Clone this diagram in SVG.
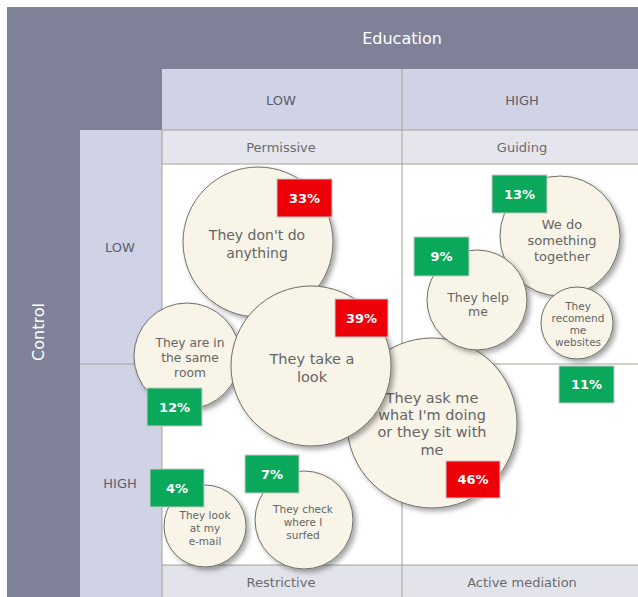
<svg xmlns="http://www.w3.org/2000/svg" width="638" height="597" viewBox="0 0 638 597">
<defs>
<filter id="sh" x="-20%" y="-20%" width="150%" height="150%">
<feDropShadow dx="3" dy="3" stdDeviation="2.5" flood-color="#000" flood-opacity="0.35"/>
</filter>
<style>
text{font-family:"DejaVu Sans","Liberation Sans",sans-serif;text-anchor:middle}
.hd{fill:#ffffff;font-size:16px}
.lab{fill:#5a5e6a;font-size:13px}
.sub{fill:#6a6a6a;font-size:13px}
.c{fill:#f8f4e8;stroke:#6e6e66;stroke-width:1;filter:url(#sh)}
.t{fill:#656565}
.r{fill:#ee0008;stroke:#c8c8c8;stroke-width:1}
.g{fill:#0aa85a;stroke:#c8c8c8;stroke-width:1}
.p{fill:#ffffff;font-size:13px;font-weight:bold}
.ln{stroke:#a3a394;stroke-width:1}
</style>
</defs>
<rect x="0" y="0" width="638" height="597" fill="#ffffff"/>
<rect x="7" y="7" width="631" height="590" fill="#7f8199"/>
<rect x="162" y="69" width="476" height="61" fill="#d0d3e6"/>
<rect x="80" y="130" width="82" height="467" fill="#d0d3e6"/>
<rect x="162" y="130" width="476" height="34" fill="#e5e6ed"/>
<rect x="162" y="164" width="476" height="401" fill="#ffffff"/>
<rect x="162" y="565" width="476" height="32" fill="#e3e4eb"/>
<g id="grid">
<line class="ln" x1="402" y1="69" x2="402" y2="597"/>
<line class="ln" x1="162" y1="130" x2="638" y2="130"/>
<line class="ln" x1="162" y1="164" x2="638" y2="164"/>
<line class="ln" x1="80" y1="364" x2="638" y2="364"/>
<line class="ln" x1="162" y1="565" x2="638" y2="565"/>
<line class="ln" x1="162" y1="130" x2="162" y2="597"/>
</g>
<g id="labels">
<text class="hd" x="402" y="44">Education</text>
<text class="hd" transform="translate(44,332) rotate(-90)">Control</text>
<text class="lab" x="281" y="105">LOW</text>
<text class="lab" x="522" y="105">HIGH</text>
<text class="sub" x="281" y="152">Permissive</text>
<text class="sub" x="522" y="152">Guiding</text>
<text class="sub" x="281" y="587">Restrictive</text>
<text class="sub" x="522" y="587">Active mediation</text>
<text class="lab" x="120" y="252">LOW</text>
<text class="lab" x="120" y="488">HIGH</text>
</g>
<g id="ask">
<circle class="c" cx="432" cy="423" r="85"/>
<text class="t" font-size="14.5" x="432" y="403">They ask me</text>
<text class="t" font-size="14.5" x="432" y="420">what I'm doing</text>
<text class="t" font-size="14.5" x="432" y="437">or they sit with</text>
<text class="t" font-size="14.5" x="432" y="455">me</text>
</g>
<g id="dont">
<circle class="c" cx="258" cy="242" r="75"/>
<text class="t" font-size="14" x="257" y="240">They don't do</text>
<text class="t" font-size="14" x="257" y="258">anything</text>
</g>
<g id="room">
<circle class="c" cx="187" cy="356" r="53"/>
<text class="t" font-size="12.3" x="190" y="347">They are in</text>
<text class="t" font-size="12.3" x="190" y="362">the same</text>
<text class="t" font-size="12.3" x="190" y="377">room</text>
</g>
<g id="look">
<circle class="c" cx="311" cy="366" r="80"/>
<text class="t" font-size="14.5" x="312" y="364">They take a</text>
<text class="t" font-size="14.5" x="312" y="382">look</text>
</g>
<g id="together">
<circle class="c" cx="560" cy="236" r="60"/>
<text class="t" font-size="13" x="562" y="229">We do</text>
<text class="t" font-size="13" x="562" y="245">something</text>
<text class="t" font-size="13" x="562" y="261">together</text>
</g>
<g id="help">
<circle class="c" cx="477" cy="300" r="50"/>
<text class="t" font-size="12.5" x="478" y="302">They help</text>
<text class="t" font-size="12.5" x="478" y="316">me</text>
</g>
<g id="recomend">
<circle class="c" cx="577" cy="323" r="36"/>
<text class="t" font-size="10.5" x="578" y="310">They</text>
<text class="t" font-size="10.5" x="578" y="322">recomend</text>
<text class="t" font-size="10.5" x="578" y="334">me</text>
<text class="t" font-size="10.5" x="578" y="346">websites</text>
</g>
<g id="email">
<circle class="c" cx="205" cy="526" r="41"/>
<text class="t" font-size="10.5" x="205" y="519">They look</text>
<text class="t" font-size="10.5" x="205" y="532">at my</text>
<text class="t" font-size="10.5" x="205" y="545">e-mail</text>
</g>
<g id="surfed">
<circle class="c" cx="304" cy="520" r="49"/>
<text class="t" font-size="10.5" x="303" y="513">They check</text>
<text class="t" font-size="10.5" x="303" y="526">where I</text>
<text class="t" font-size="10.5" x="303" y="539">surfed</text>
</g>
<g id="badges">
<rect class="r" x="277" y="179" width="55" height="38"/><text class="p" x="304.5" y="203">33%</text>
<rect class="r" x="335" y="299" width="53" height="38"/><text class="p" x="361.5" y="323">39%</text>
<rect class="r" x="446" y="461" width="54" height="37"/><text class="p" x="473" y="484">46%</text>
<rect class="g" x="147" y="388" width="55" height="38"/><text class="p" x="174.5" y="412">12%</text>
<rect class="g" x="492" y="175" width="55" height="38"/><text class="p" x="519.5" y="199">13%</text>
<rect class="g" x="414" y="237" width="55" height="39"/><text class="p" x="441.5" y="261">9%</text>
<rect class="g" x="559" y="366" width="55" height="37"/><text class="p" x="586.5" y="389">11%</text>
<rect class="g" x="150" y="469" width="54" height="38"/><text class="p" x="177" y="493">4%</text>
<rect class="g" x="245" y="455" width="54" height="38"/><text class="p" x="272" y="479">7%</text>
</g>
</svg>
